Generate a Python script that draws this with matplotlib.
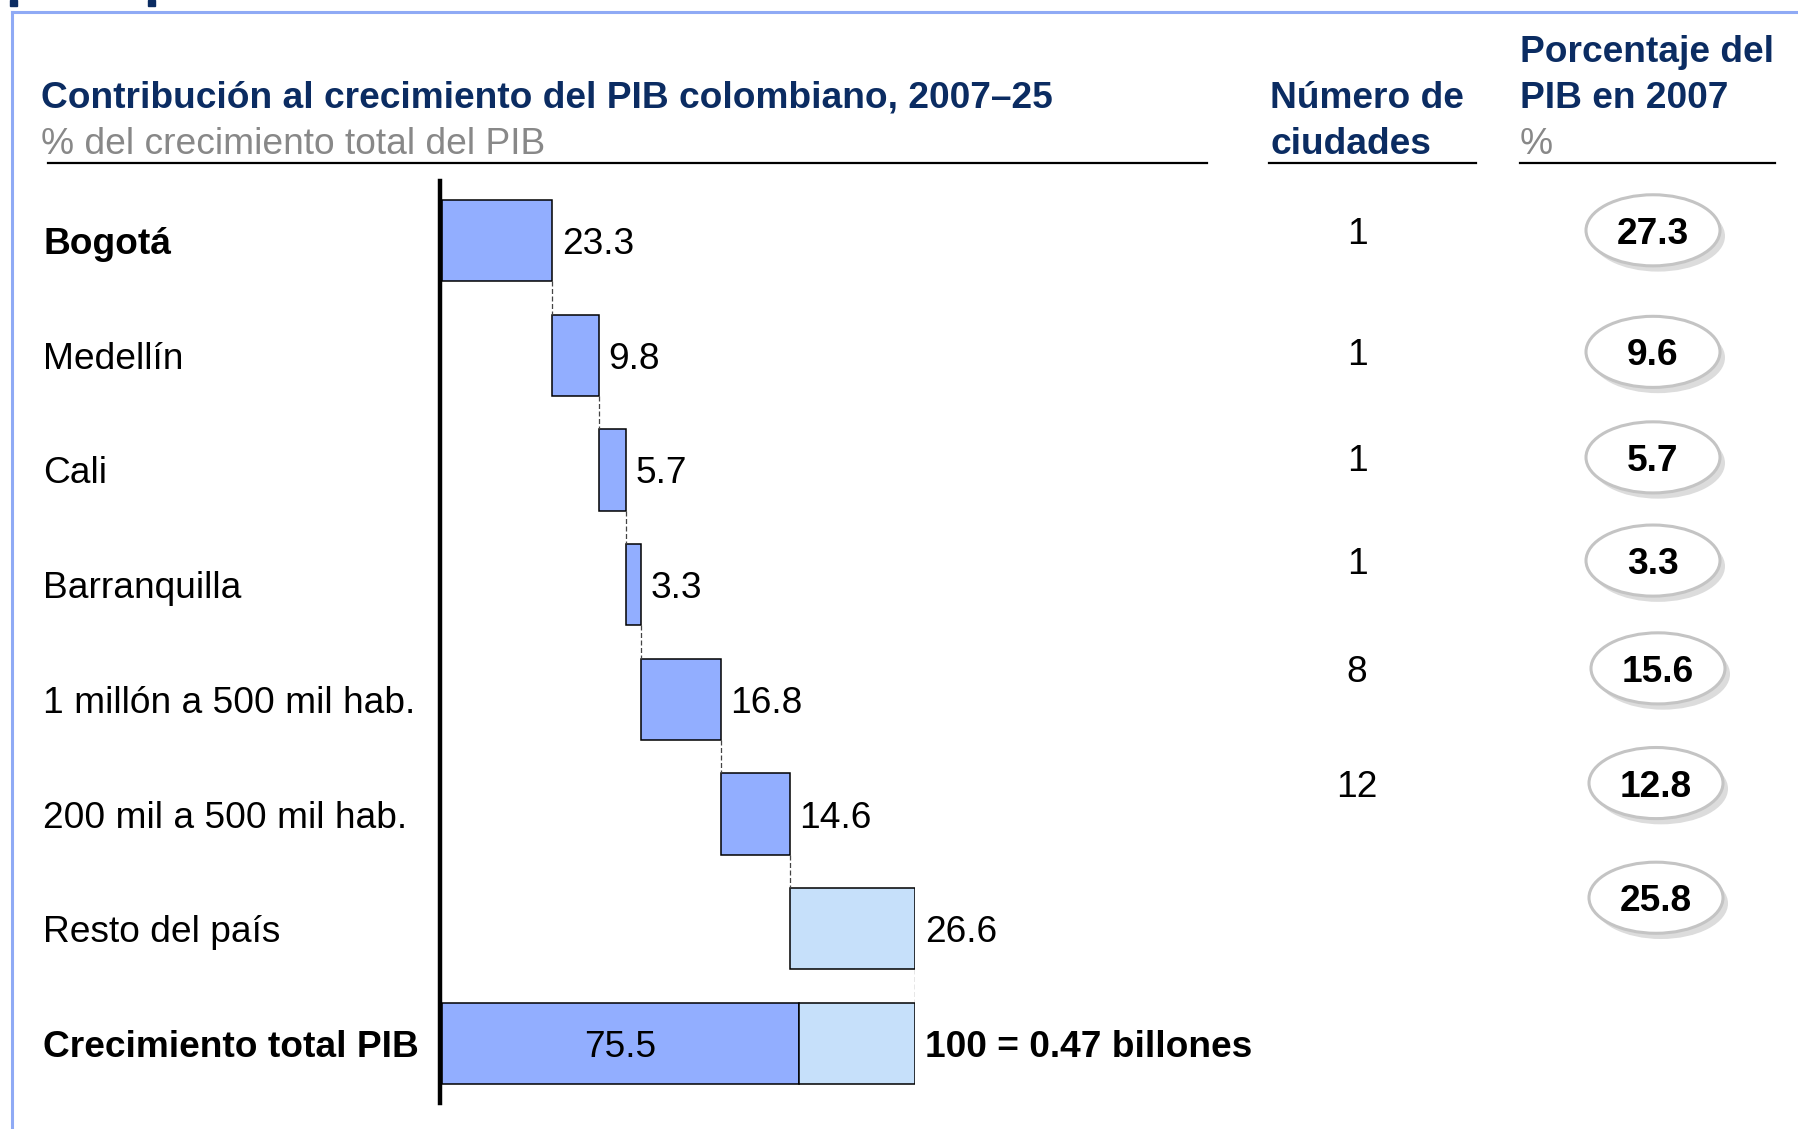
import numpy as np
import matplotlib.pyplot as plt
from matplotlib.patches import Ellipse, Rectangle
from matplotlib.lines import Line2D

plt.rcParams['font.family'] = ['Liberation Sans', 'DejaVu Sans']

# data
labels = ['Bogotá', 'Medellín', 'Cali', 'Barranquilla', '1 millón a 500 mil hab.',
          '200 mil a 500 mil hab.', 'Resto del país', 'Crecimiento total PIB']
contrib = [23.3, 9.8, 5.7, 3.3, 16.8, 14.6, 26.6]
total_cities = 75.5
total_label = '100 = 0.47 billones'
n_cities = ['1', '1', '1', '1', '8', '12']
pib_2007 = [27.3, 9.6, 5.7, 3.3, 15.6, 12.8, 25.8]

title = 'Contribución al crecimiento del PIB colombiano, 2007–25'
subtitle = '% del crecimiento total del PIB'

# styles / layout
navy = '#0b2c62'
blue = '#92aeff'
light = '#c6e0fa'
grey = '#888888'
fs = 26.7
va = 'center_baseline'
bold_rows = [0, 7]
# small vertical shifts of the right-hand columns (row units)
col_shift = [-0.09, -0.03, -0.11, -0.21, -0.27, -0.27, -0.27]
ell_dx = [0, 0, 0, 0, 5, 3, 3]

W, H = 1798, 1129
fig = plt.figure(figsize=(W / 100, H / 100), dpi=100)

ax = fig.add_axes([442 / W, 26 / H, 473 / W, 922 / H])
ax.set_xlim(0, 100)
ax.set_ylim(7.52, -0.52)
for s in ['top', 'right', 'bottom']:
    ax.spines[s].set_visible(False)
ax.spines['left'].set_linewidth(3.2)
ax.spines['left'].set_position(('data', -0.4))
ax.set_xticks([])
ax.set_yticks([])
ax.patch.set_alpha(0)

bh = 0.71
starts = np.concatenate([[0], np.cumsum(contrib)[:-1]])
colors = [blue] * 6 + [light]
ax.barh(range(7), contrib, left=starts, height=bh, color=colors,
        edgecolor='black', linewidth=1.1)
for i, (s, v) in enumerate(zip(starts, contrib)):
    ax.annotate(f'{v:.1f}', (s + v, i), xytext=(7, 0), textcoords='offset points',
                va=va, ha='left', fontsize=fs)
    end = s + v
    ax.plot([end, end], [i + bh / 2, i + 1 - bh / 2], ls=(0, (4, 2)),
            color='#444444', lw=0.9)

# total bar
ax.barh(7, total_cities, height=bh, color=blue, edgecolor='black', linewidth=1.1)
ax.barh(7, 100 - total_cities, left=total_cities, height=bh, color=light,
        edgecolor='black', linewidth=1.1)
ax.text(total_cities / 2, 7, f'{total_cities:.1f}', ha='center', va=va, fontsize=fs)
ax.annotate(total_label, (100, 7), xytext=(7, 0), textcoords='offset points',
            va=va, ha='left', fontsize=fs, fontweight='bold')

# row labels
for i, lab in enumerate(labels):
    ax.annotate(lab, xy=(0, i), xycoords=('figure pixels', 'data'), xytext=(43, 0),
                textcoords='offset pixels', va=va, ha='left', fontsize=fs,
                fontweight='bold' if i in bold_rows else 'normal')

# right-hand columns (x in pixels of the figure)
ax2 = fig.add_axes([0, 26 / H, 1, 922 / H], sharey=ax)
ax2.set_xlim(0, W)
ax2.axis('off')
ax2.patch.set_alpha(0)
for i, n in enumerate(n_cities):
    ax2.text(1357, i + col_shift[i], n, ha='center', va=va, fontsize=fs)
for i, p in enumerate(pib_2007):
    cx = 1653 + ell_dx[i]
    cy = i + col_shift[i]
    ax2.add_patch(Ellipse((cx + 5, cy + 0.05), 134, 0.62, facecolor='#dcdcdc',
                          edgecolor='none', zorder=1))
    ax2.add_patch(Ellipse((cx, cy), 134, 0.62, facecolor='white',
                          edgecolor='#c4c4c4', lw=2.2, zorder=2))
    ax2.text(cx, cy, f'{p:.1f}', ha='center', va=va, fontsize=fs,
             fontweight='bold', zorder=3)

# headers
def ftxt(x, y, s, **kw):
    fig.text(x / W, 1 - y / H, s, va=va, ha='left', fontsize=fs, **kw)

ftxt(41, 94, title, color=navy, fontweight='bold')
ftxt(41, 140, subtitle, color=grey)
ftxt(1270, 94, 'Número de', color=navy, fontweight='bold')
ftxt(1270, 140, 'ciudades', color=navy, fontweight='bold')
ftxt(1520, 49, 'Porcentaje del', color=navy, fontweight='bold')
ftxt(1520, 94, 'PIB en 2007', color=navy, fontweight='bold')
ftxt(1520, 140, '%', color=grey)

for x0, x1 in [(48, 1207), (1269, 1476), (1520, 1775)]:
    fig.add_artist(Line2D([x0 / W, x1 / W], [1 - 163 / H] * 2, color='black', lw=1.6))

# frame
fig.add_artist(Line2D([12 / W, 1], [1 - 12 / H] * 2, color='#8faaf5', lw=2.2))
fig.add_artist(Line2D([12 / W] * 2, [1 - 12 / H, 0], color='#8faaf5', lw=2.2))
for x0 in [10, 148]:
    fig.add_artist(Rectangle((x0 / W, 1 - 6 / H), 7 / W, 6 / H, color=navy))

fig.savefig('out.png', dpi=100)
